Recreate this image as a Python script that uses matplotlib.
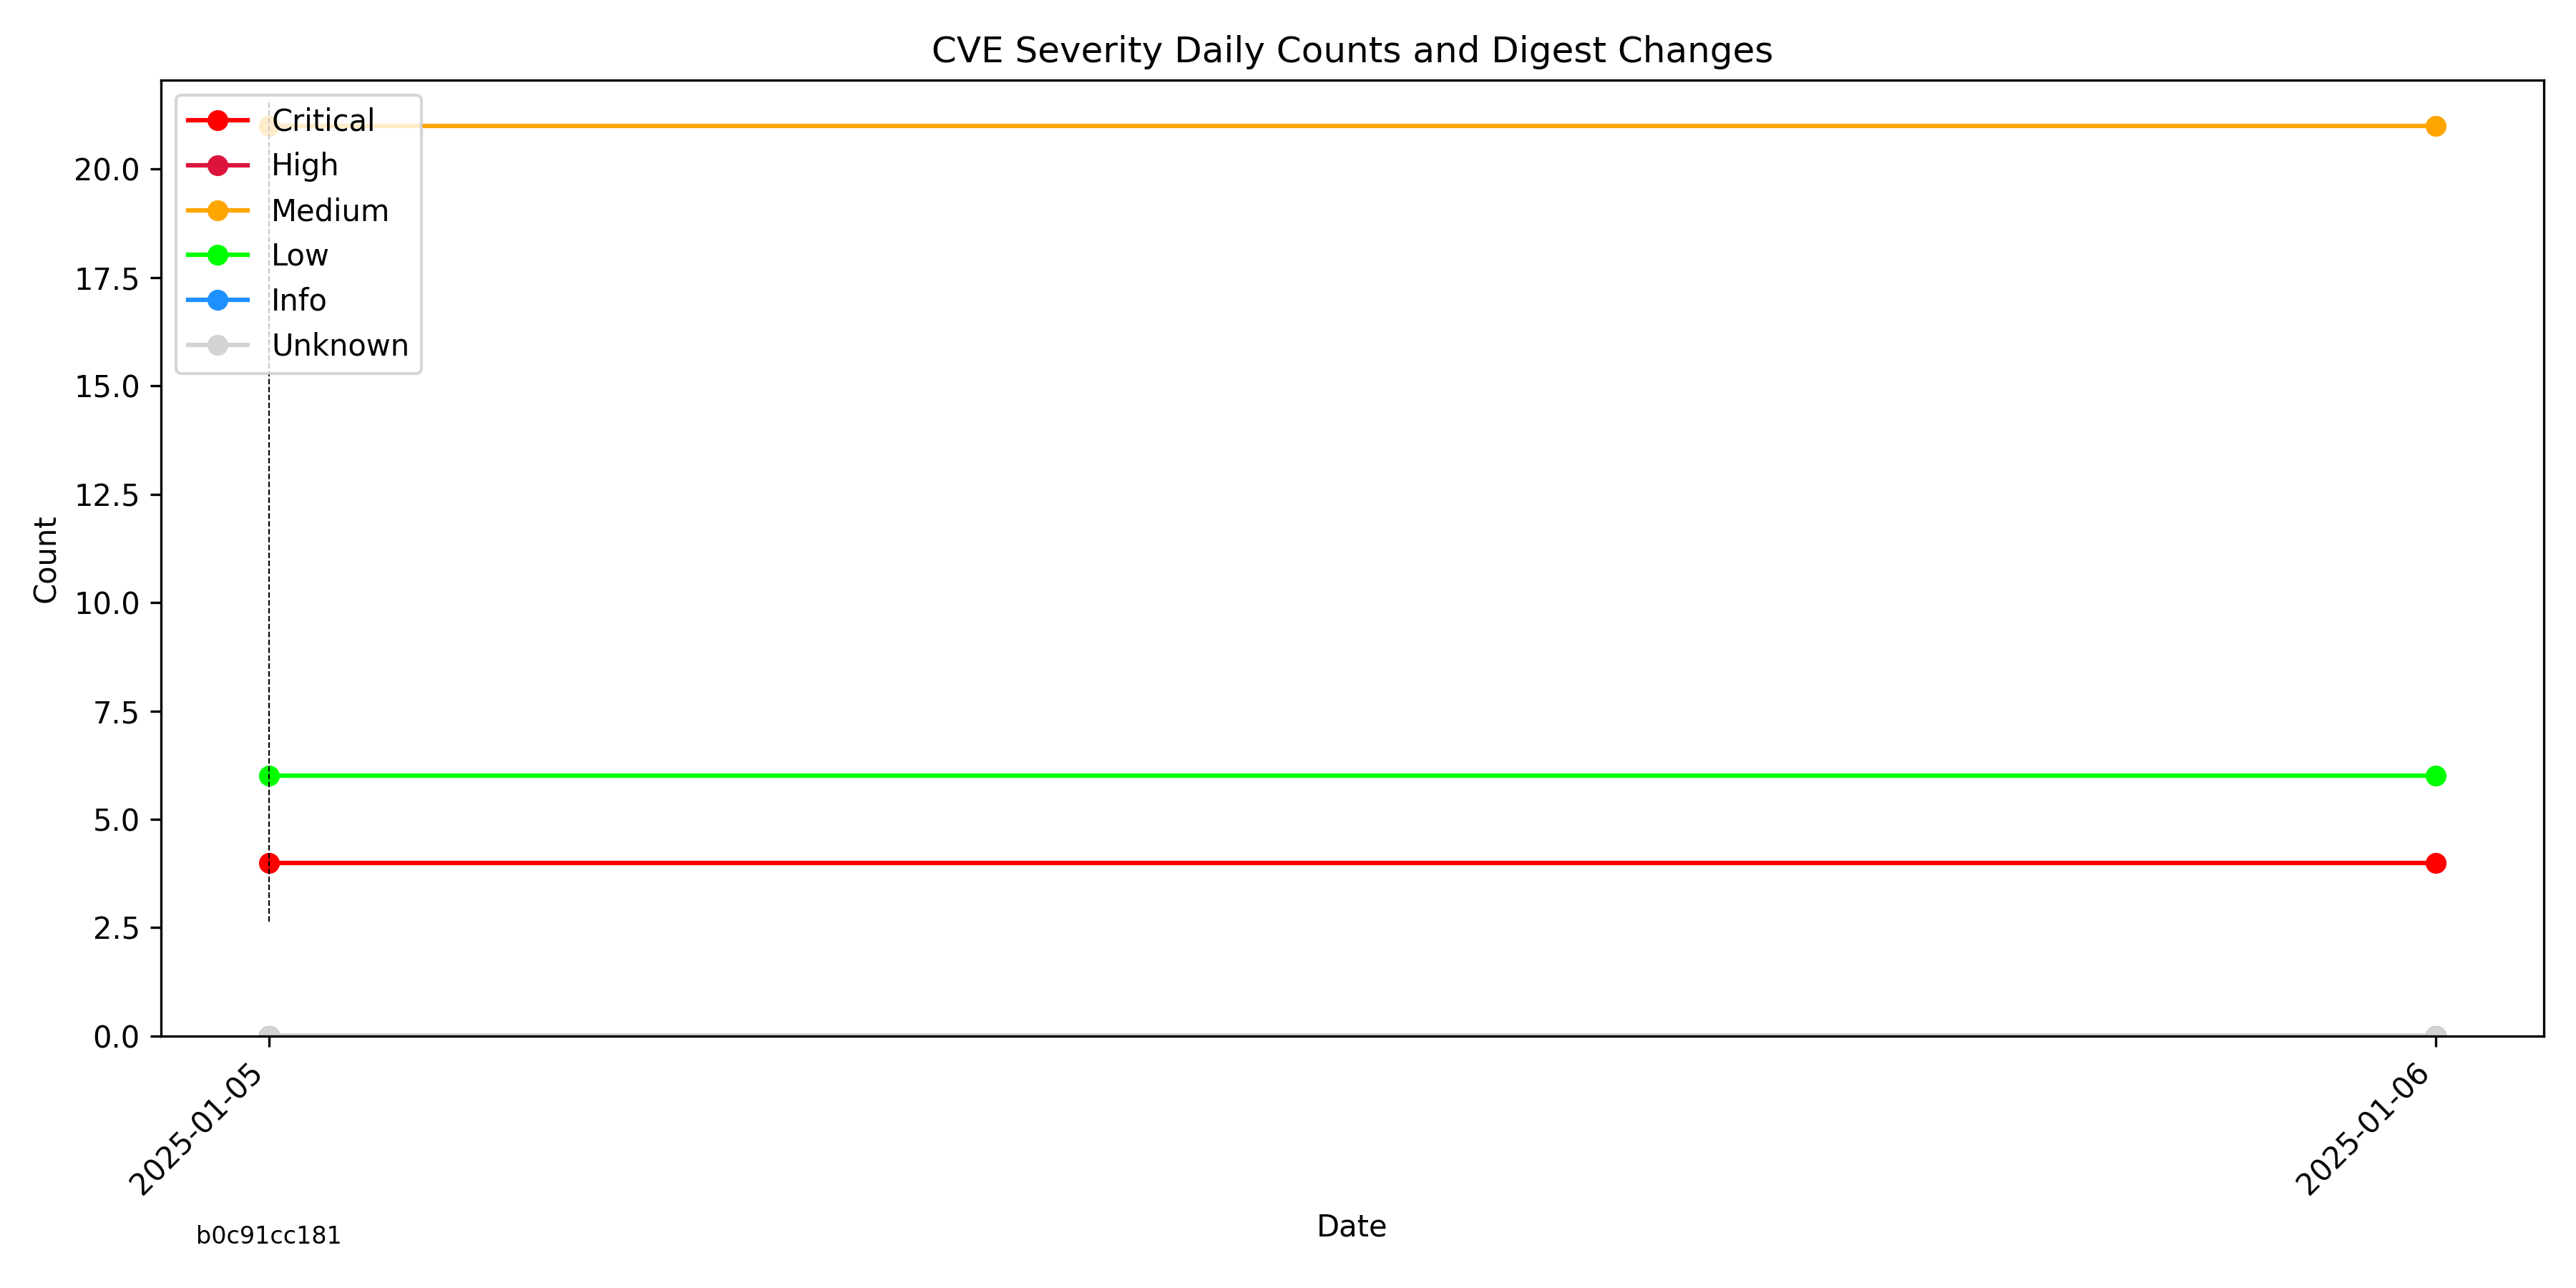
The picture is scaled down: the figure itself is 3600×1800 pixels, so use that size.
import numpy as np
import pandas as pd
import matplotlib
matplotlib.use("Agg")
import matplotlib.pyplot as plt
import matplotlib.dates as mdates
import matplotlib.transforms as mtransforms

# daily counts per severity
dates = pd.to_datetime(["2025-01-05", "2025-01-06"])
severities = ["Critical", "High", "Medium", "Low", "Info", "Unknown"]
critical = [4, 4]
high = [0, 0]
medium = [21, 21]
low = [6, 6]
info = [0, 0]
unknown = [0, 0]

# digest change markers
digest_dates = pd.to_datetime(["2025-01-05"])
digest_labels = ["b0c91cc181"]

colors = {
    "Critical": "red",
    "High": "crimson",
    "Medium": "orange",
    "Low": "lime",
    "Info": "dodgerblue",
    "Unknown": "lightgray",
}

series = {
    "Critical": critical,
    "High": high,
    "Medium": medium,
    "Low": low,
    "Info": info,
    "Unknown": unknown,
}

fig, ax = plt.subplots(figsize=(12, 6), dpi=300)

for sev in severities:
    ax.plot(dates, series[sev], marker="o", color=colors[sev], label=sev)

ymax = max(max(v) for v in series.values())
ax.set_ylim(0, ymax * 1.05)

# mark digest changes
trans = mtransforms.blended_transform_factory(ax.transData, ax.transAxes)
for d, lab in zip(digest_dates, digest_labels):
    ax.axvline(d, ymin=0.12, ymax=0.98, color="black", linestyle="--", linewidth=0.5)
    ax.text(d, -0.21, lab, transform=trans, ha="center", va="center", fontsize=8)

ax.set_xticks(dates)
ax.xaxis.set_major_formatter(mdates.DateFormatter("%Y-%m-%d"))
plt.setp(ax.get_xticklabels(), rotation=45, ha="right")

ax.set_title("CVE Severity Daily Counts and Digest Changes")
ax.set_xlabel("Date")
ax.set_ylabel("Count")
ax.legend(loc="upper left")

fig.subplots_adjust(left=0.0625, right=0.9875, top=0.9378, bottom=0.1956)
fig.savefig("out.png", dpi=300)
